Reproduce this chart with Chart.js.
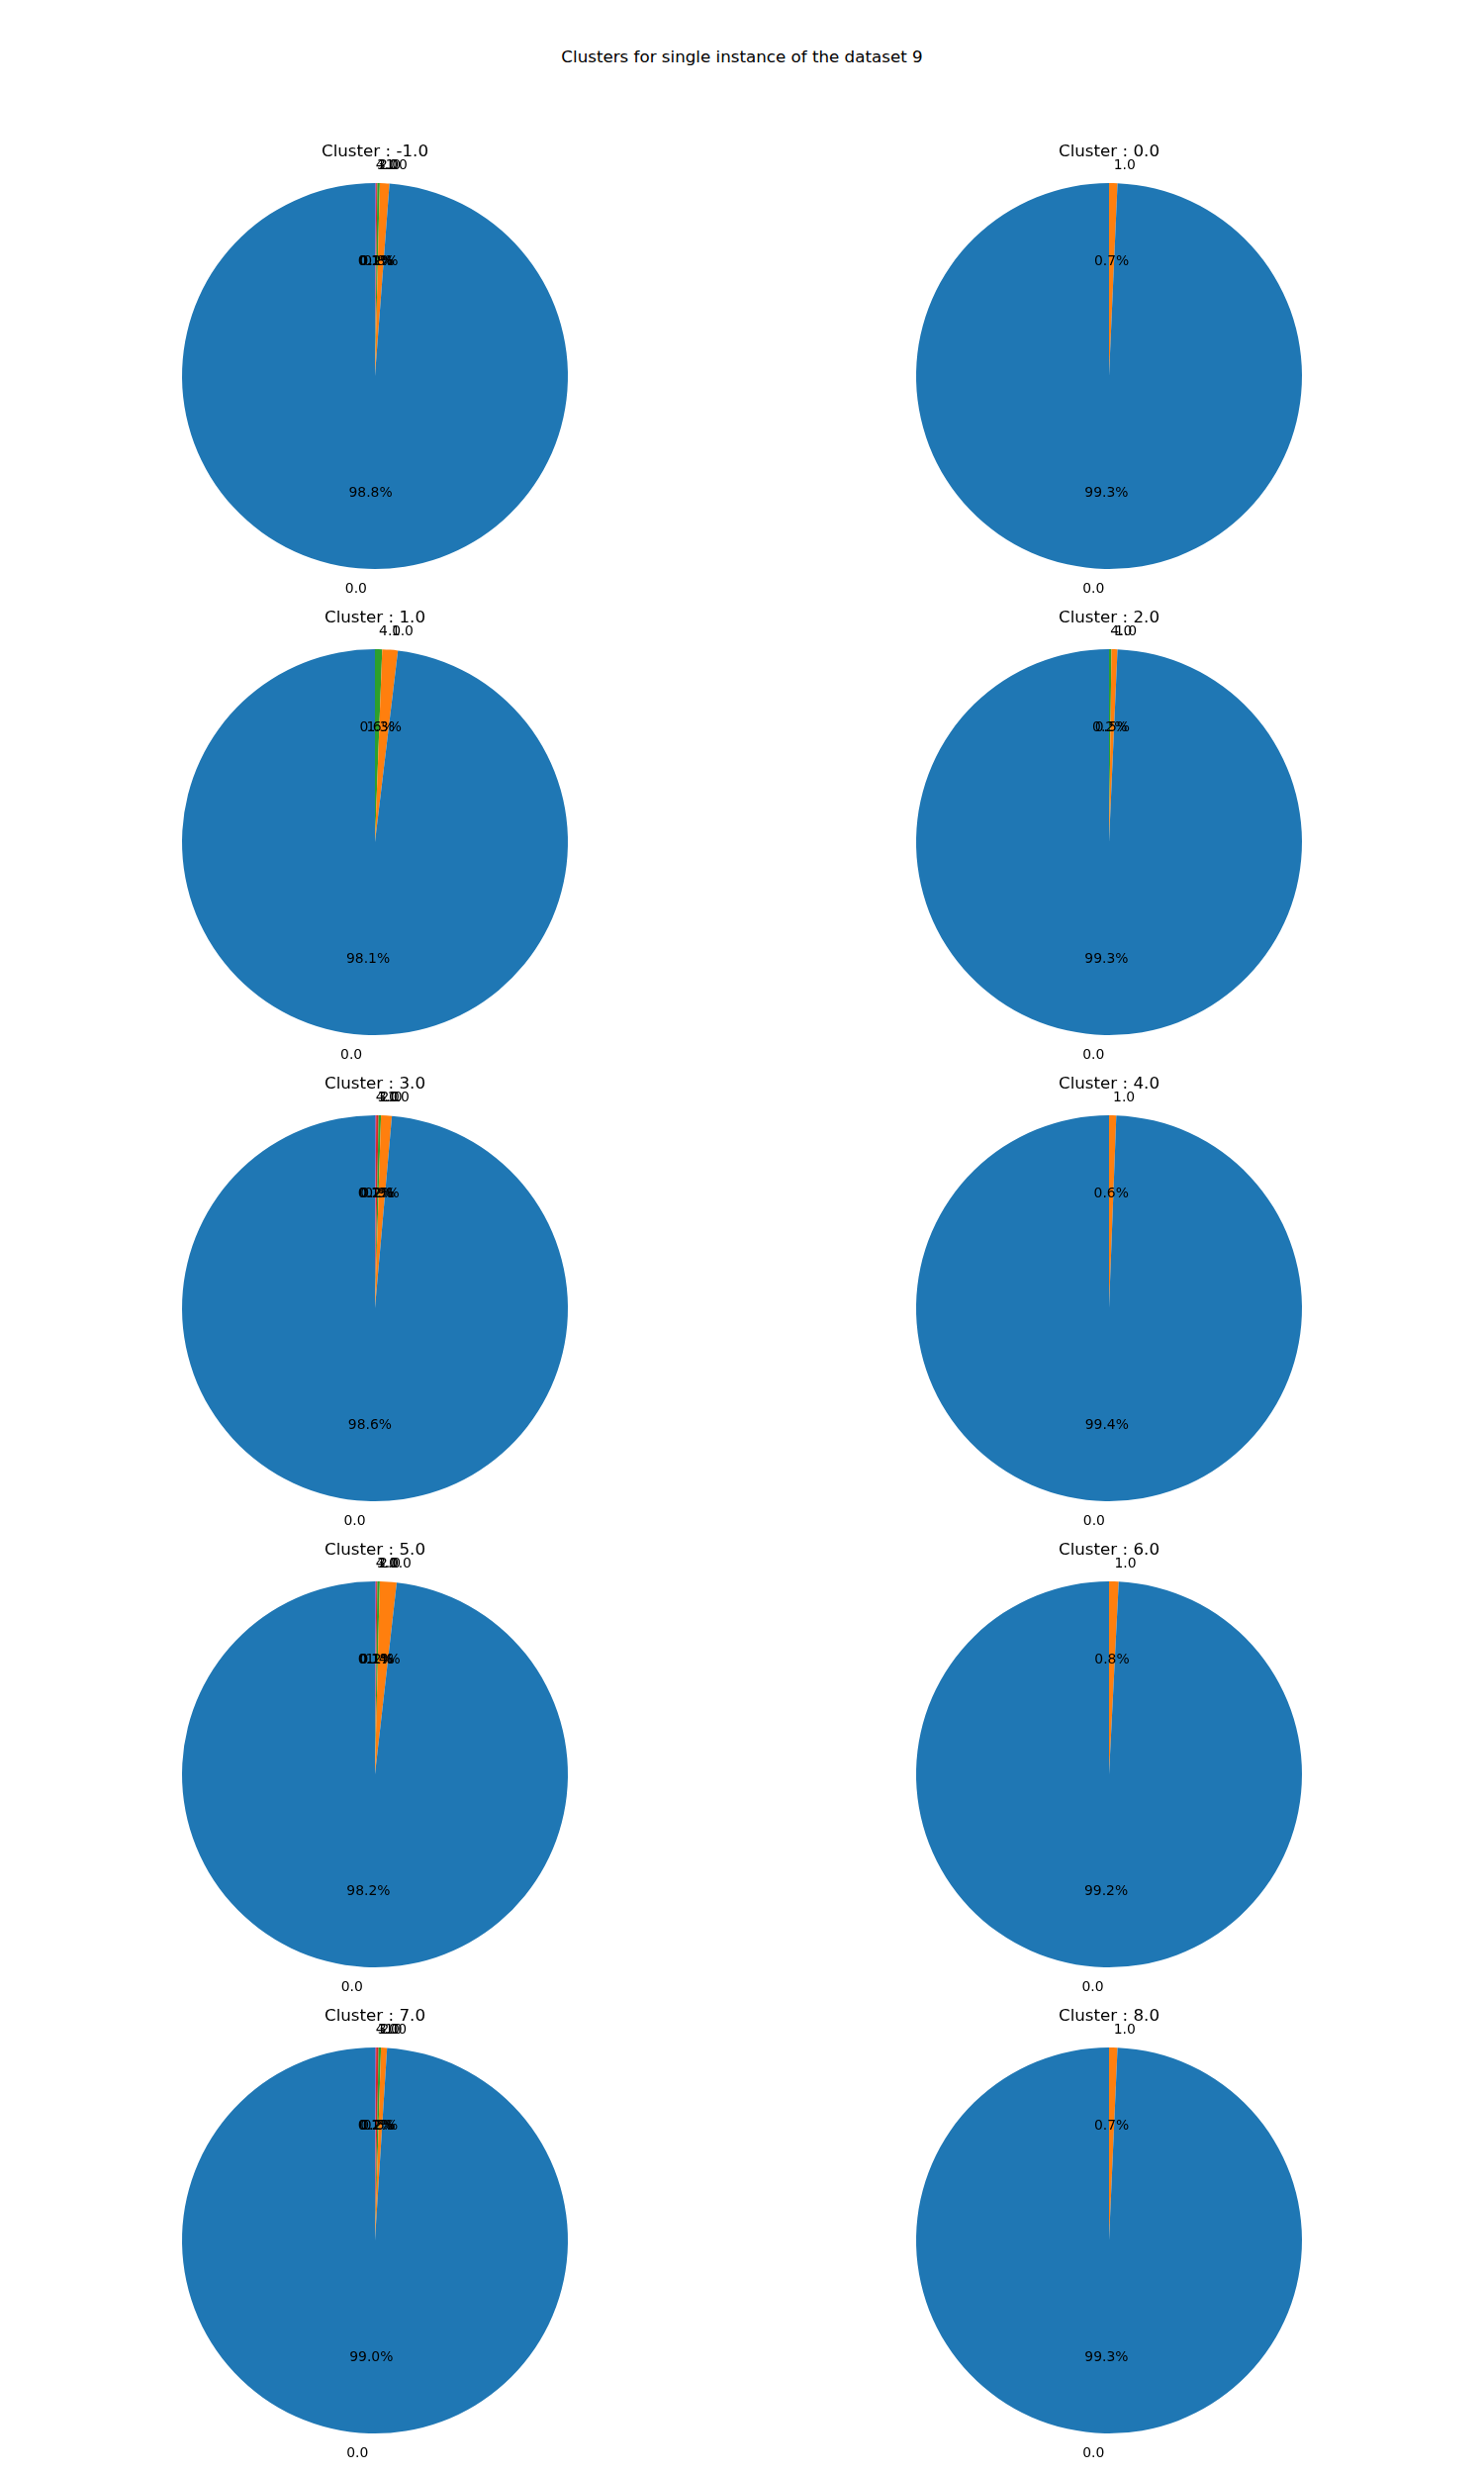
<!DOCTYPE html>
<html>
<head>
<meta charset="utf-8">
<script src="https://cdn.jsdelivr.net/npm/chart.js@4/dist/chart.umd.min.js"></script>
<style>
  html, body { margin: 0; padding: 0; background: #ffffff; }
  #page { position: relative; width: 1500px; height: 2500px; background: #ffffff; overflow: hidden; }
  #suptitle { position: absolute; left: 0; width: 1500px; top: 47px; text-align: center;
              font-family: "DejaVu Sans", sans-serif; font-size: 16.7px; color: #000; line-height: 20px; }
  canvas { position: absolute; }
</style>
</head>
<body>
<div id="page">
  <div id="suptitle">Clusters for single instance of the dataset 9</div>
</div>
<script>
// ---- data (percent of each cluster, in the original slice order) ----
const figureTitle = 'Clusters for single instance of the dataset 9';
const clusterNames = ['-1.0', '0.0', '1.0', '2.0', '3.0', '4.0', '5.0', '6.0', '7.0', '8.0'];
const sliceLabels = [
  ['0.0', '1.0', '2.0', '3.0', '4.0'],
  ['0.0', '1.0'],
  ['0.0', '1.0', '4.0'],
  ['0.0', '1.0', '4.0'],
  ['0.0', '1.0', '2.0', '3.0', '4.0'],
  ['0.0', '1.0'],
  ['0.0', '1.0', '2.0', '3.0', '4.0'],
  ['0.0', '1.0'],
  ['0.0', '1.0', '2.0', '3.0', '4.0'],
  ['0.0', '1.0']
];
const sliceValues = [
  [98.8, 0.8, 0.2, 0.1, 0.1],
  [99.3, 0.7],
  [98.1, 1.3, 0.6],
  [99.3, 0.5, 0.2],
  [98.6, 0.9, 0.2, 0.2, 0.1],
  [99.4, 0.6],
  [98.2, 1.4, 0.2, 0.1, 0.1],
  [99.2, 0.8],
  [99.0, 0.5, 0.2, 0.2, 0.1],
  [99.3, 0.7]
];
const palette = ['#1f77b4', '#ff7f0e', '#2ca02c', '#d62728', '#9467bd', '#8c564b', '#e377c2', '#7f7f7f', '#bcbd22', '#17becf'];

// ---- layout ----
const FONT = '"DejaVu Sans", sans-serif';
const LABEL_PX = 13.9;
const TITLE_PX = 16.7;
const CW = 700, CH = 560, R = 195;
const PADX = (CW - 2 * R) / 2, PADY = (CH - 2 * R) / 2;
const colCenters = [379, 1121];
const rowCenter0 = 379.5, rowStep = 471;

document.getElementById('suptitle').textContent = figureTitle;

const pieText = {
  id: 'pieText',
  afterDatasetsDraw(chart) {
    const ctx = chart.ctx;
    const meta = chart.getDatasetMeta(0);
    const labels = chart.data.labels;
    const data = chart.data.datasets[0].data;
    const total = data.reduce((a, b) => a + b, 0);
    let cx = 0, cy = 0, rr = 0;
    ctx.save();
    ctx.fillStyle = '#000000';
    ctx.textBaseline = 'alphabetic';
    ctx.font = LABEL_PX + 'px ' + FONT;
    meta.data.forEach((arc, i) => {
      const p = arc.getProps(['x', 'y', 'startAngle', 'endAngle', 'outerRadius'], true);
      cx = p.x; cy = p.y; rr = p.outerRadius;
      const mid = (p.startAngle + p.endAngle) / 2;
      const dx = Math.cos(mid), dy = Math.sin(mid);
      const lx = p.x + dx * p.outerRadius * 1.1;
      const ly = p.y + dy * p.outerRadius * 1.1;
      ctx.textAlign = (lx - p.x) > 0 ? 'left' : 'right';
      ctx.fillText(labels[i], lx, ly + 0.36 * LABEL_PX);
      const px = p.x + dx * p.outerRadius * 0.6;
      const py = p.y + dy * p.outerRadius * 0.6;
      ctx.textAlign = 'center';
      ctx.fillText((data[i] / total * 100).toFixed(1) + '%', px, py + 0.36 * LABEL_PX);
    });
    ctx.font = TITLE_PX + 'px ' + FONT;
    ctx.textAlign = 'center';
    ctx.fillText(chart.options.plugins.pieText.title, cx, cy - rr * 1.141);
    ctx.restore();
  }
};

const page = document.getElementById('page');
clusterNames.forEach((name, k) => {
  const col = k % 2, row = Math.floor(k / 2);
  const canvas = document.createElement('canvas');
  canvas.width = CW; canvas.height = CH;
  canvas.style.width = CW + 'px'; canvas.style.height = CH + 'px';
  canvas.style.left = (colCenters[col] - CW / 2) + 'px';
  canvas.style.top = (rowCenter0 + row * rowStep - CH / 2) + 'px';
  page.appendChild(canvas);
  // matplotlib draws counter-clockwise from the top; Chart.js clockwise -> reverse order
  const labs = sliceLabels[k].slice().reverse();
  const vals = sliceValues[k].slice().reverse();
  const cols = sliceValues[k].map((_, i) => palette[i % palette.length]).reverse();
  new Chart(canvas, {
    type: 'pie',
    data: {
      labels: labs,
      datasets: [{ data: vals, backgroundColor: cols, borderWidth: 0, hoverOffset: 0, offset: 0 }]
    },
    options: {
      responsive: false,
      devicePixelRatio: 1,
      animation: false,
      events: [],
      layout: { padding: { left: PADX, right: PADX, top: PADY, bottom: PADY } },
      plugins: {
        legend: { display: false },
        tooltip: { enabled: false },
        title: { display: false },
        pieText: { title: 'Cluster : ' + name }
      }
    },
    plugins: [pieText]
  });
});
</script>
</body>
</html>
